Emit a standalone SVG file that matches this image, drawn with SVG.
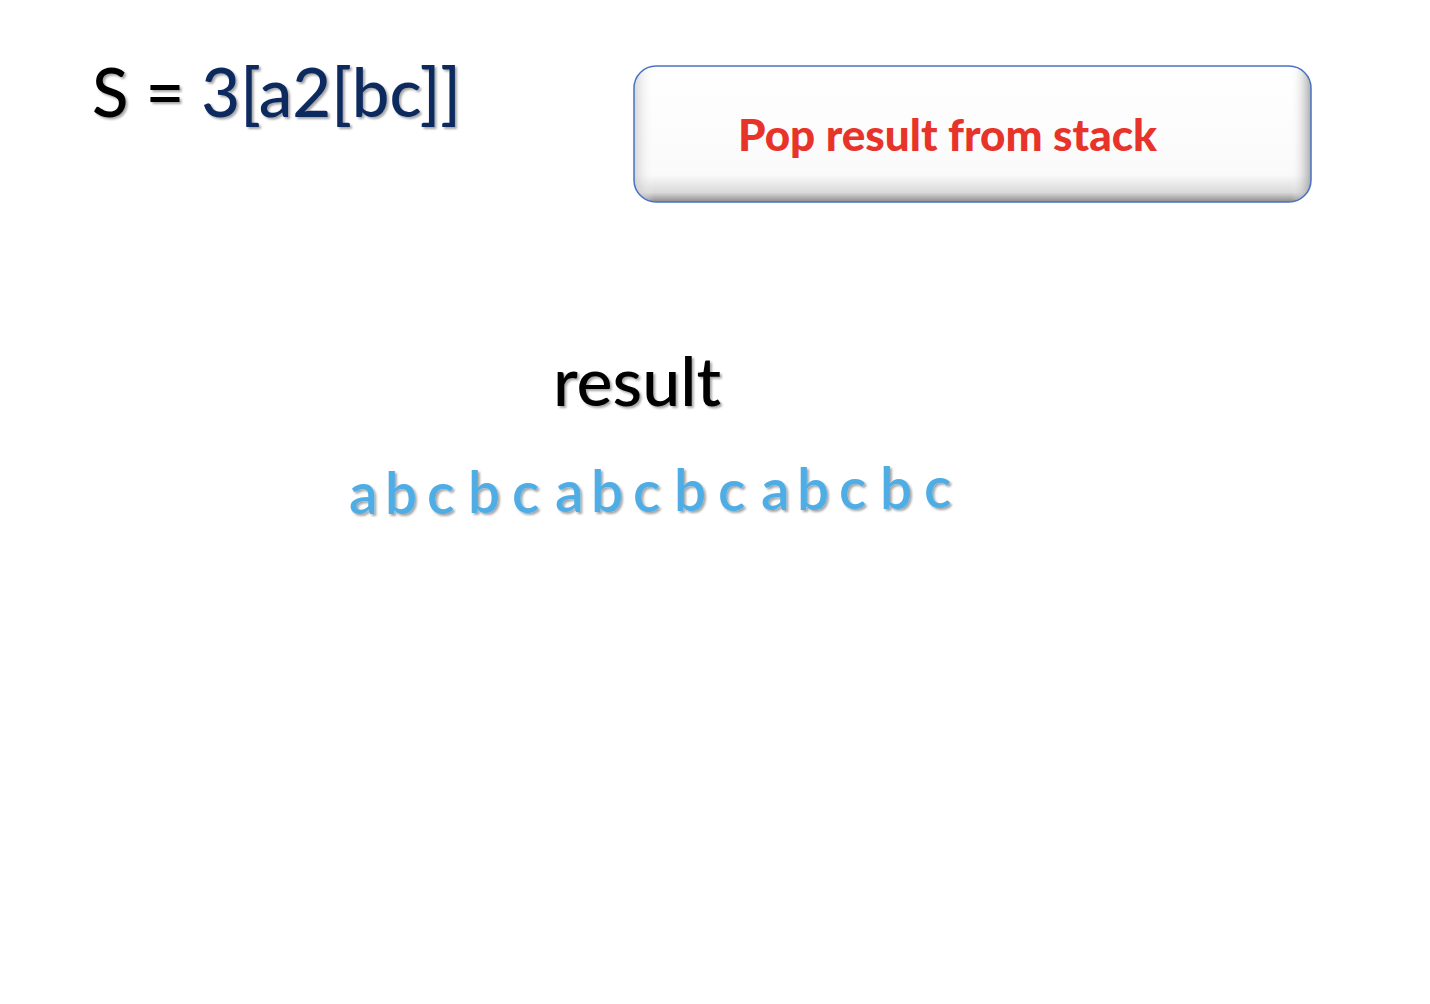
<svg xmlns="http://www.w3.org/2000/svg" width="1430" height="1004" viewBox="0 0 1430 1004">
<defs>
<style>
.t{font-family:Lato,"Open Sans","Liberation Sans",sans-serif}
.ch{font-family:Lato,"Open Sans","Liberation Sans",sans-serif;font-size:57px;font-weight:600;fill:#4FADE6;filter:url(#sh)}
</style>
<filter id="sh" x="-20%" y="-20%" width="140%" height="140%">
<feGaussianBlur in="SourceAlpha" stdDeviation="1.2"/>
<feOffset dx="2" dy="2" result="b"/>
<feFlood flood-color="#000" flood-opacity="0.35"/>
<feComposite in2="b" operator="in"/>
<feMerge><feMergeNode/><feMergeNode in="SourceGraphic"/></feMerge>
</filter>
<linearGradient id="gv" x1="0" y1="0" x2="0" y2="1">
<stop offset="0" stop-color="#ffffff"/>
<stop offset="0.8" stop-color="#fafafa"/>
<stop offset="0.93" stop-color="#d9d9d9"/>
<stop offset="1" stop-color="#8c8c8c"/>
</linearGradient>
<linearGradient id="gh" x1="0" y1="0" x2="1" y2="0">
<stop offset="0" stop-color="#bbb" stop-opacity="0.6"/>
<stop offset="0.03" stop-color="#fff" stop-opacity="0"/>
<stop offset="0.97" stop-color="#fff" stop-opacity="0"/>
<stop offset="1" stop-color="#888" stop-opacity="0.7"/>
</linearGradient>
</defs>
<rect width="1430" height="1004" fill="#fff"/>
<g id="title">
<text class="t" x="92" y="117" font-size="68" font-weight="500" filter="url(#sh)" textLength="369" lengthAdjust="spacingAndGlyphs"><tspan fill="#000">S = </tspan><tspan fill="#0E2A5E">3[a2[bc]]</tspan></text>
</g>
<g id="box">
<rect x="634" y="66" width="677" height="136" rx="22" fill="url(#gv)"/>
<rect x="634" y="66" width="677" height="136" rx="22" fill="url(#gh)" stroke="#4A72C4" stroke-width="1.5"/>
<text class="t" x="738" y="151" font-size="44" font-weight="900" fill="#E8332A" textLength="419" lengthAdjust="spacingAndGlyphs">Pop result from stack</text>
</g>
<g id="result">
<text class="t" x="553" y="406" font-size="68" font-weight="500" fill="#000" filter="url(#sh)" textLength="168" lengthAdjust="spacingAndGlyphs">result</text>
</g>
<g id="chars">
<text class="ch" x="349" y="514">a</text>
<text class="ch" x="385" y="514">b</text>
<text class="ch" x="427" y="514">c</text>
<text class="ch" x="468" y="513">b</text>
<text class="ch" x="512" y="513">c</text>
<text class="ch" x="555" y="512">a</text>
<text class="ch" x="591" y="512">b</text>
<text class="ch" x="633" y="512">c</text>
<text class="ch" x="674" y="511">b</text>
<text class="ch" x="718" y="511">c</text>
<text class="ch" x="761" y="510">a</text>
<text class="ch" x="797" y="510">b</text>
<text class="ch" x="839" y="509">c</text>
<text class="ch" x="880" y="509">b</text>
<text class="ch" x="924" y="508">c</text>
</g>
</svg>
